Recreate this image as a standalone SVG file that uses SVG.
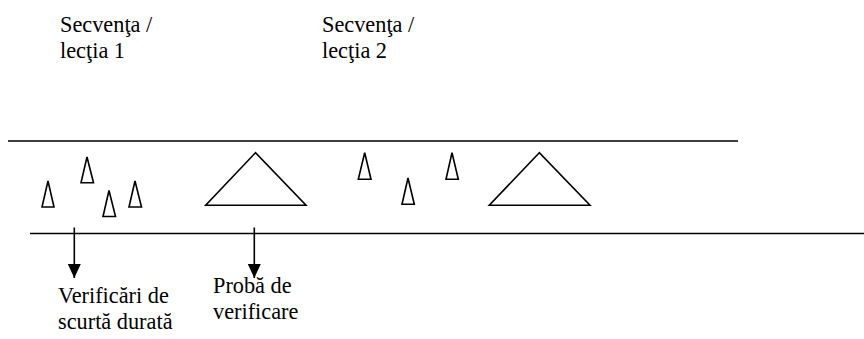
<svg xmlns="http://www.w3.org/2000/svg" width="864" height="339" viewBox="0 0 864 339">
<defs>
<style>
text{font-family:'Liberation Serif','Times New Roman',serif;font-size:22.3px;fill:#000}
.ln{stroke:#000;stroke-width:1.6;fill:none}
.tri{stroke:#000;stroke-width:1.6;fill:none;stroke-linejoin:miter}
</style>
<marker id="ah" markerWidth="14" markerHeight="13" refX="14" refY="6.5" orient="auto" markerUnits="userSpaceOnUse" viewBox="0 0 14 13">
<path d="M0,0 L14,6.5 L0,13 Z" fill="#000"/>
</marker>
</defs>
<rect width="864" height="339" fill="#fff"/>
<g id="label-seq1"><text x="60" y="32">Secvenţa /</text><text x="60" y="58">lecţia 1</text></g>
<g id="label-seq2"><text x="322" y="32">Secvenţa /</text><text x="322" y="58">lecţia 2</text></g>
<g id="timeline">
<line class="ln" x1="8" y1="141" x2="738" y2="141"/>
<line class="ln" x1="30" y1="233.5" x2="864" y2="233.5"/>
</g>
<g id="short-checks-1">
<polygon class="tri" points="48,181 42,207 54,207"/>
<polygon class="tri" points="87,157 81,182.7 93.5,182.7"/>
<polygon class="tri" points="109,190.5 103,216.5 115.5,216.5"/>
<polygon class="tri" points="135,181 129,207 141.5,207"/>
</g>
<g id="test-1"><polygon class="tri" points="255.5,152.7 205.7,205.3 306,205.3"/></g>
<g id="short-checks-2">
<polygon class="tri" points="364.7,152.7 358.3,179.3 371,179.3"/>
<polygon class="tri" points="408,178 402,204.3 414.3,204.3"/>
<polygon class="tri" points="452,152.7 446,179.3 458.3,179.3"/>
</g>
<g id="test-2"><polygon class="tri" points="539.3,152.7 489.3,205.3 590,205.3"/></g>
<g id="connectors">
<line class="ln" x1="74.3" y1="227.5" x2="74.3" y2="278" marker-end="url(#ah)"/>
<line class="ln" x1="254.3" y1="227.5" x2="254.3" y2="278" marker-end="url(#ah)"/>
</g>
<g id="label-short"><text x="58" y="303">Verificări de</text><text x="58" y="329">scurtă durată</text></g>
<g id="label-test"><text x="213" y="293">Probă de</text><text x="213" y="319">verificare</text></g>
</svg>
